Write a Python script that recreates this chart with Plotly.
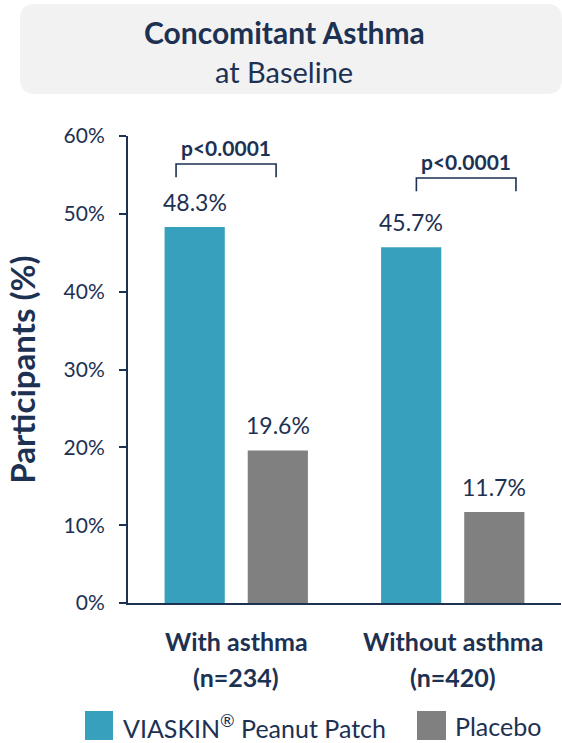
import plotly.graph_objects as go

# Data
groups = ["With asthma", "Without asthma"]
group_n = ["(n=234)", "(n=420)"]
series_names = ["VIASKIN<sup>®</sup> Peanut Patch", "Placebo"]
viaskin = [48.3, 45.7]
placebo = [19.6, 11.7]
p_values = ["p<0.0001", "p<0.0001"]
y_ticks = [0, 10, 20, 30, 40, 50, 60]
y_ticktext = ["0%", "10%", "20%", "30%", "40%", "50%", "60%"]

NAVY = "#1d3152"
BLUE = "#37a0bc"
GREY = "#808080"
FONT = "Lato"

W, H = 562, 743
L, R, T, B = 128, 1, 136, 140
pw, ph = W - L - R, H - T - B


def px(x):
    return (x - L) / pw


def py(y):
    return (H - B - y) / ph


pos = list(range(len(groups)))
bar_w = 0.278
centre_off = 0.192

fig = go.Figure()
for vals, name, col, off in [(viaskin, series_names[0], BLUE, -centre_off),
                             (placebo, series_names[1], GREY, centre_off)]:
    fig.add_trace(go.Bar(
        x=pos, y=vals, name=name, marker=dict(color=col, line=dict(width=0)),
        width=bar_w, offset=off - bar_w / 2, showlegend=False,
    ))
    # value labels above each bar
    for p, v in zip(pos, vals):
        fig.add_annotation(x=p + off, y=v, xref="x", yref="y", text=f"{v:.1f}%",
                           showarrow=False, yanchor="middle", yshift=25,
                           font=dict(family=FONT, size=23, color=NAVY))

# significance brackets
brackets = [(-0.278, 0.184, 56.4, 54.7), (0.832, 1.292, 54.6, 52.9)]
for (x0, x1, top, bot), ptxt in zip(brackets, p_values):
    fig.add_shape(type="path", xref="x", yref="y",
                  path=f"M {x0} {bot} L {x0} {top} L {x1} {top} L {x1} {bot}",
                  line=dict(color=NAVY, width=1.6))
    fig.add_annotation(x=(x0 + x1) / 2, y=top, xref="x", yref="y",
                       text=f"<b>{ptxt}</b>", showarrow=False,
                       yanchor="middle", yshift=17,
                       font=dict(family=FONT, size=21, color=NAVY))

# category labels below the axis
for p, g, n in zip(pos, groups, group_n):
    fig.add_annotation(x=p, y=py(641), xref="x", yref="paper", text=f"<b>{g}</b>",
                       showarrow=False, yanchor="middle",
                       font=dict(family=FONT, size=25, color=NAVY))
    fig.add_annotation(x=p, y=py(677), xref="x", yref="paper", text=f"<b>{n}</b>",
                       showarrow=False, yanchor="middle",
                       font=dict(family=FONT, size=25, color=NAVY))

fig.update_layout(
    width=W, height=H,
    margin=dict(l=L, r=R, t=T, b=B),
    paper_bgcolor="white", plot_bgcolor="white",
    font=dict(family=FONT, color=NAVY),
    xaxis=dict(range=[-0.5, 1.5], showticklabels=False, ticks="",
               showgrid=False, zeroline=False, showline=True,
               linecolor=NAVY, linewidth=2, fixedrange=True),
    yaxis=dict(range=[0, 60], tickvals=y_ticks, ticktext=y_ticktext,
               ticks="outside", ticklen=7, tickwidth=2, tickcolor=NAVY,
               showline=True, linecolor=NAVY, linewidth=2,
               showgrid=False, zeroline=False,
               tickfont=dict(family=FONT, size=21, color=NAVY),
               ticklabelstandoff=10,
               title=dict(text="<b>Participants (%)</b>", standoff=18,
                          font=dict(family=FONT, size=33, color=NAVY))),
)

# rounded title panel
bx0, bx1, by0, by1, rad = 20, 562, 4, 94, 15
path = (f"M {px(bx0 + rad)} {py(by0)} L {px(bx1 - rad)} {py(by0)} "
        f"Q {px(bx1)} {py(by0)} {px(bx1)} {py(by0 + rad)} "
        f"L {px(bx1)} {py(by1 - rad)} Q {px(bx1)} {py(by1)} {px(bx1 - rad)} {py(by1)} "
        f"L {px(bx0 + rad)} {py(by1)} Q {px(bx0)} {py(by1)} {px(bx0)} {py(by1 - rad)} "
        f"L {px(bx0)} {py(by0 + rad)} Q {px(bx0)} {py(by0)} {px(bx0 + rad)} {py(by0)} Z")
fig.add_shape(type="path", xref="paper", yref="paper", path=path,
              fillcolor="#f2f2f2", line=dict(width=0), layer="below")
fig.add_annotation(x=px(284), y=py(32), xref="paper", yref="paper",
                   text="<b>Concomitant Asthma</b>", showarrow=False,
                   yanchor="middle",
                   font=dict(family=FONT, size=30, color=NAVY))
fig.add_annotation(x=px(284), y=py(71), xref="paper", yref="paper",
                   text="at Baseline", showarrow=False, yanchor="middle",
                   font=dict(family=FONT, size=29, color=NAVY))

# legend drawn as swatches with labels
legend_items = [(85, 113, 121, series_names[0], BLUE), (417, 446, 453, series_names[1], GREY)]
for sx0, sx1, tx, name, col in legend_items:
    fig.add_shape(type="rect", xref="paper", yref="paper",
                  x0=px(sx0), x1=px(sx1), y0=py(740), y1=py(711),
                  fillcolor=col, line=dict(width=0))
    fig.add_annotation(x=px(tx), y=py(726), xref="paper", yref="paper",
                       text=name, showarrow=False, xanchor="left", yanchor="middle",
                       font=dict(family=FONT, size=25, color=NAVY))

fig.write_html("out.html")
